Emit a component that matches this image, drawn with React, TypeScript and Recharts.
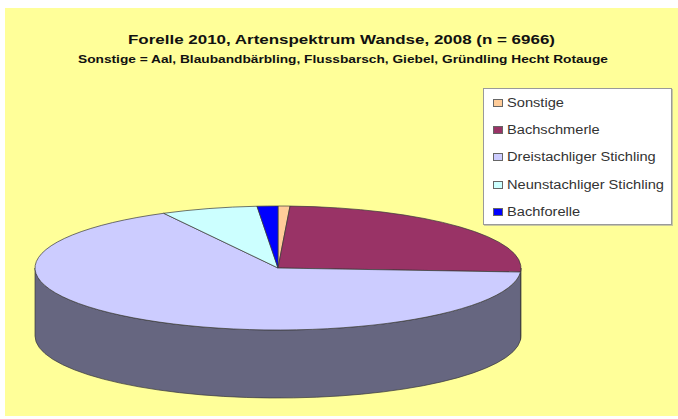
import React from 'react'
import { PieChart, Pie, Cell, Legend } from 'recharts'

// Artenspektrum Wandse 2008, n = 6966
const species = [
  'Sonstige',
  'Bachschmerle',
  'Dreistachliger Stichling',
  'Neunstachliger Stichling',
  'Bachforelle',
]
const counts = [55, 1759, 4609, 447, 96]
const colors = ['#FFCC99', '#993366', '#CCCCFF', '#CCFFFF', '#0000FF']

const title = 'Forelle 2010, Artenspektrum Wandse, 2008 (n = 6966)'
const subtitle =
  'Sonstige = Aal, Blaubandbärbling, Flussbarsch, Giebel, Gründling Hecht Rotauge'

const data = species.map((name, i) => ({ name, value: counts[i] }))

const W = 678
const H = 419
const TILT = 62 / 243 // ry / rx of the top face
const DEPTH = 68 // height of the cylinder wall
const RAD = Math.PI / 180
const EDGE = '#3a3a3a'
const FONT = '"Liberation Sans", Arial, sans-serif'

function shade(hex: string, f: number) {
  const n = parseInt(hex.slice(1), 16)
  const r = Math.round(((n >> 16) & 255) * f)
  const g = Math.round(((n >> 8) & 255) * f)
  const b = Math.round((n & 255) * f)
  return `rgb(${r},${g},${b})`
}

// a slice drawn as part of a tilted disc
function Slice3D(props: any) {
  const { cx, cy, outerRadius, startAngle, endAngle, fill } = props
  const rx = outerRadius
  const ry = outerRadius * TILT
  const pt = (deg: number, dy = 0) =>
    `${cx + rx * Math.cos(deg * RAD)},${cy - ry * Math.sin(deg * RAD) + dy}`

  const hi = Math.max(startAngle, endAngle)
  const lo = Math.min(startAngle, endAngle)
  const large = hi - lo > 180 ? 1 : 0
  const top = `M${cx},${cy} L${pt(hi)} A${rx},${ry} 0 ${large} 1 ${pt(lo)} Z`

  // only the front half of the wall can be seen
  const wHi = Math.min(hi, 0)
  const wLo = Math.max(lo, -180)
  let wall = null
  if (wHi > wLo) {
    const d =
      `M${pt(wHi)} A${rx},${ry} 0 0 1 ${pt(wLo)} ` +
      `L${pt(wLo, DEPTH)} A${rx},${ry} 0 0 0 ${pt(wHi, DEPTH)} Z`
    wall = <path d={d} fill={shade(fill, 0.5)} stroke={EDGE} strokeWidth={0.7} />
  }

  return (
    <g>
      {wall}
      <path d={top} fill={fill} stroke={EDGE} strokeWidth={0.7} />
    </g>
  )
}

function LegendBox({ payload }: any) {
  // keep the order of the data, not alphabetical
  const items = [...(payload || [])].sort(
    (a: any, b: any) => species.indexOf(a.value) - species.indexOf(b.value)
  )
  return (
    <div
      style={{
        width: 187,
        height: 135,
        background: '#fff',
        border: '1px solid #9a9a9a',
        boxShadow: '1px 1px 0 #c8c8a0',
        fontFamily: FONT,
        fontSize: 12.5,
        color: '#333',
        boxSizing: 'content-box',
      }}
    >
      {items.map((p: any, i: number) => (
        <div
          key={p.value}
          style={{
            position: 'absolute',
            left: 10,
            top: 15 + i * 27.2 - 7,
            height: 14,
            display: 'flex',
            alignItems: 'center',
            whiteSpace: 'nowrap',
          }}
        >
          <span
            style={{
              display: 'inline-block',
              width: 8,
              height: 6,
              background: p.color,
              border: '1px solid #666',
              marginRight: 4,
            }}
          />
          <span
            style={{
              display: 'inline-block',
              transform: 'scaleX(1.17)',
              transformOrigin: 'left center',
            }}
          >
            {p.value}
          </span>
        </div>
      ))}
    </div>
  )
}

export default function App() {
  return (
    <div
      style={{
        position: 'absolute',
        left: 0,
        top: 0,
        width: W,
        height: H,
        background: '#fff',
        overflow: 'hidden',
      }}
    >
      <div
        style={{
          position: 'absolute',
          left: 5,
          top: 8,
          width: W - 5,
          height: 408,
          background: '#FFFF99',
        }}
      />
      <svg
        width={W}
        height={H}
        style={{ position: 'absolute', left: 0, top: 0 }}
      >
        <text
          x={128}
          y={44}
          textLength={427}
          lengthAdjust='spacingAndGlyphs'
          fontFamily={FONT}
          fontWeight='bold'
          fontSize={13.5}
          fill='#111'
        >
          {title}
        </text>
        <text
          x={78}
          y={63}
          textLength={530}
          lengthAdjust='spacingAndGlyphs'
          fontFamily={FONT}
          fontWeight='bold'
          fontSize={10}
          fill='#111'
        >
          {subtitle}
        </text>
      </svg>
      <div style={{ position: 'absolute', left: 0, top: 0 }}>
        <PieChart
          width={W}
          height={H}
          margin={{ top: 0, right: 0, bottom: 0, left: 0 }}
        >
          <Pie
            data={data}
            dataKey='value'
            nameKey='name'
            cx={278}
            cy={268}
            outerRadius={243}
            startAngle={90}
            endAngle={-270}
            shape={Slice3D}
            isAnimationActive={false}
          >
            {data.map((d, i) => (
              <Cell key={d.name} fill={colors[i]} />
            ))}
          </Pie>
          <Legend
            layout='vertical'
            align='right'
            verticalAlign='top'
            content={<LegendBox />}
            wrapperStyle={{ left: 483, top: 88, width: 189, height: 137 }}
          />
        </PieChart>
      </div>
    </div>
  )
}
